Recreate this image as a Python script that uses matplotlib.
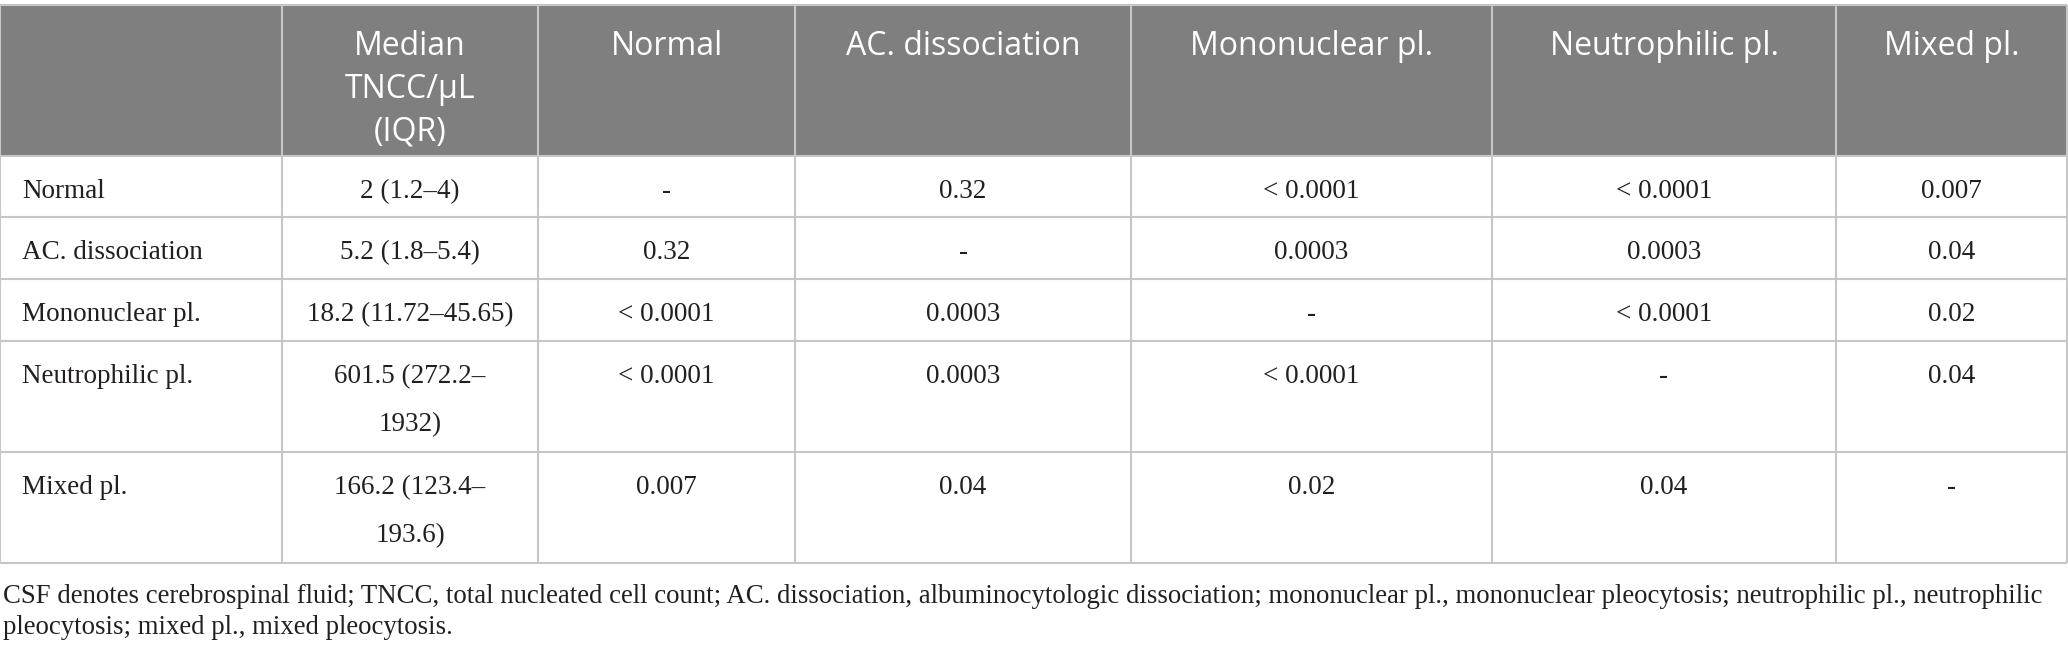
import matplotlib
matplotlib.use("Agg")
import matplotlib.pyplot as plt
from matplotlib.patches import Rectangle

# ---------------- data ----------------
col_headers = ["", "Median\nTNCC/μL\n(IQR)", "Normal", "AC. dissociation",
               "Mononuclear pl.", "Neutrophilic pl.", "Mixed pl."]
groups = ["Normal", "AC. dissociation", "Mononuclear pl.", "Neutrophilic pl.", "Mixed pl."]
median_tncc = ["2 (1.2–4)", "5.2 (1.8–5.4)", "18.2 (11.72–45.65)",
               "601.5 (272.2–\n1932)", "166.2 (123.4–\n193.6)"]
p_normal = ["-", "0.32", "< 0.0001", "< 0.0001", "0.007"]
p_ac = ["0.32", "-", "0.0003", "0.0003", "0.04"]
p_mono = ["< 0.0001", "0.0003", "-", "< 0.0001", "0.02"]
p_neut = ["< 0.0001", "0.0003", "< 0.0001", "-", "0.04"]
p_mixed = ["0.007", "0.04", "0.02", "0.04", "-"]
footnote_lines = [
    "CSF denotes cerebrospinal fluid; TNCC, total nucleated cell count; AC. dissociation, "
    "albuminocytologic dissociation; mononuclear pl., mononuclear pleocytosis; neutrophilic pl., neutrophilic",
    "pleocytosis; mixed pl., mixed pleocytosis.",
]

# ---------------- layout ----------------
W, H = 2068, 653
col_edges = [0, 282, 538, 795, 1131, 1492, 1836, 2067]
row_edges = [5, 156, 217, 279, 341, 452, 563]
header_color = "#7f7f7f"
line_color = "#c6c6c6"
text_color = "#231f20"
body_font = "Liberation Serif"
head_font = "Open Sans"
body_size = 19.5
head_size = 23

fig = plt.figure(figsize=(W / 100, H / 100), dpi=100)
ax = fig.add_axes([0, 0, 1, 1])
ax.set_xlim(0, W)
ax.set_ylim(H, 0)
ax.axis("off")

# header background
ax.add_patch(Rectangle((col_edges[0], row_edges[0]), col_edges[-1] - col_edges[0],
                       row_edges[1] - row_edges[0], facecolor=header_color,
                       edgecolor="none", zorder=1))

# grid lines
lw = 1.5
for y in row_edges:
    ax.plot([col_edges[0], col_edges[-1]], [y, y], color=line_color, lw=lw, zorder=2,
            solid_capstyle="butt")
for x in col_edges:
    ax.plot([x, x], [row_edges[0], row_edges[-1]], color=line_color, lw=lw, zorder=2,
            solid_capstyle="butt")

# header text
for j, h in enumerate(col_headers):
    if not h:
        continue
    cx = (col_edges[j] + col_edges[j + 1]) / 2
    for k, line in enumerate(h.split("\n")):
        ax.text(cx, row_edges[0] + 50 + 43 * k, line, ha="center", va="baseline",
                color="white", fontsize=head_size, family=head_font, zorder=3)

# body
columns = [groups, median_tncc, p_normal, p_ac, p_mono, p_neut, p_mixed]
for i in range(len(groups)):
    top = row_edges[i + 1]
    for j, col in enumerate(columns):
        txt = col[i]
        for k, line in enumerate(txt.split("\n")):
            y = top + 42 + 48 * k
            if j == 0:
                ax.text(col_edges[0] + 22, y, line, ha="left", va="baseline",
                        color=text_color, fontsize=body_size, family=body_font, zorder=3)
            else:
                cx = (col_edges[j] + col_edges[j + 1]) / 2
                ax.text(cx, y, line, ha="center", va="baseline",
                        color=text_color, fontsize=body_size, family=body_font, zorder=3)

# footnote
fn_size = 19.5
t = ax.text(3, 603, footnote_lines[0], ha="left", va="baseline", color=text_color,
            fontsize=fn_size, family=body_font)
fig.canvas.draw()
bb = t.get_window_extent()
target = 2043 - 3
fn_size = fn_size * target / bb.width
t.set_fontsize(fn_size)
ax.text(3, 634, footnote_lines[1], ha="left", va="baseline", color=text_color,
        fontsize=fn_size, family=body_font)

fig.savefig("out.png", dpi=100)
